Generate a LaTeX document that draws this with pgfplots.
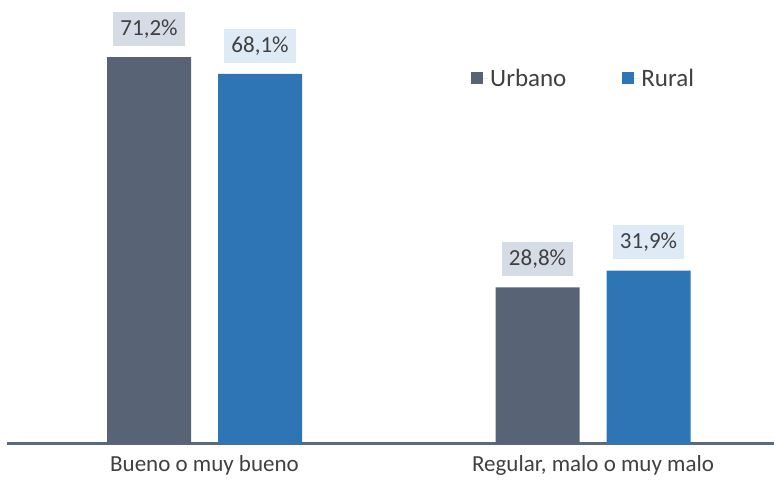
\documentclass[border=0pt]{standalone}
\usepackage{fontspec}
\setmainfont{Carlito}
\usepackage{pgfplots}
\pgfplotsset{compat=1.18}
\definecolor{urbano}{HTML}{586476}
\definecolor{rural}{HTML}{2E75B6}
\definecolor{urbanolbl}{HTML}{D6DCE5}
\definecolor{rurallbl}{HTML}{DEEBF7}
\definecolor{txt}{HTML}{404040}
\definecolor{axisc}{HTML}{5A6A7E}
\begin{document}
\begin{tikzpicture}
\useasboundingbox (0,0) rectangle (774pt,489pt);
\begin{axis}[
    at={(7pt,45pt)}, anchor=south west,
    scale only axis,
    width=767pt, height=444pt,
    xmin=-0.5084, xmax=1.4659,
    ymin=0, ymax=81.7,
    ybar=27pt, bar width=84pt,
    axis x line*=bottom,
    axis y line=none,
    x axis line style={axisc, line width=3pt, -},
    xtick={0,1},
    xticklabels={Bueno o muy bueno, {Regular, malo o muy malo}},
    major tick length=0pt,
    xticklabel style={font=\fontsize{23}{27}\selectfont, text=txt, yshift=-8pt},
    nodes near coords={\pgfmathprintnumber[use comma,fixed,fixed zerofill,precision=1,assume math mode=true]{\pgfplotspointmeta}\%},
    every node near coord/.append style={font=\fontsize{23}{27}\selectfont, text=txt,
        anchor=south, yshift=11pt, inner xsep=7pt, minimum height=34pt},
    legend columns=2,
    legend style={draw=none, fill=none, at={(0.605,0.824)}, anchor=west,
        font=\fontsize{25}{29}\selectfont, text=txt, inner sep=0pt,
        /tikz/every even column/.append style={column sep=54pt}},
    legend image code/.code={\fill[#1] (0pt,-6pt) rectangle (12pt,6pt);
        \path (0pt,0pt) -- (17pt,0pt);},
]
\addplot[fill=urbano, draw=none, every node near coord/.append style={fill=urbanolbl}]
    coordinates {(0,71.2) (1,28.8)};
\addplot[fill=rural, draw=none, every node near coord/.append style={fill=rurallbl}]
    coordinates {(0,68.1) (1,31.9)};
\legend{Urbano, Rural}
\end{axis}
\end{tikzpicture}
\end{document}
